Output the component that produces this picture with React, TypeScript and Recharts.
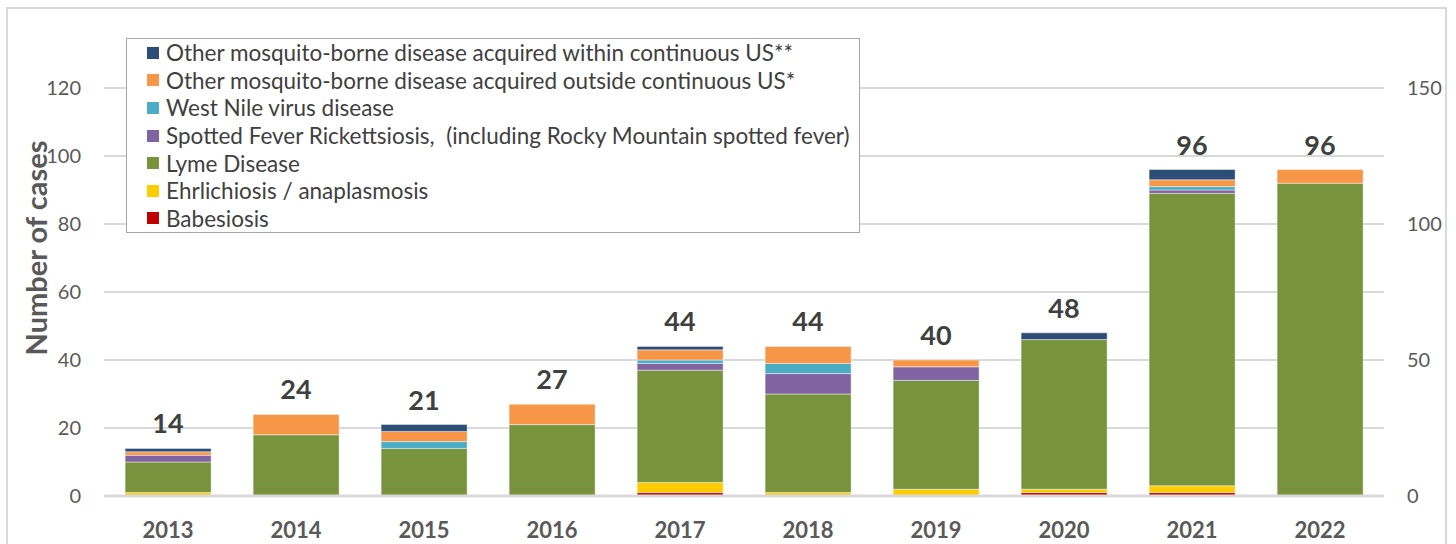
import React from "react";
import {
  ComposedChart,
  Bar,
  Line,
  XAxis,
  YAxis,
  CartesianGrid,
  Legend,
  LabelList,
  Label,
} from "recharts";

const years = ["2013", "2014", "2015", "2016", "2017", "2018", "2019", "2020", "2021", "2022"];
const babesiosis = [0, 0, 0, 0, 1, 0, 0, 1, 1, 0];
const ehrlichiosis = [1, 0, 0, 0, 3, 1, 2, 1, 2, 0];
const lyme = [9, 18, 14, 21, 33, 29, 32, 44, 86, 92];
const spotted = [2, 0, 0, 0, 2, 6, 4, 0, 1, 0];
const westNile = [0, 0, 2, 0, 1, 3, 0, 0, 1, 0];
const mosquitoOutside = [1, 6, 3, 6, 3, 5, 2, 0, 2, 4];
const mosquitoWithin = [1, 0, 2, 0, 1, 0, 0, 2, 3, 0];
const totals = [14, 24, 21, 27, 44, 44, 40, 48, 96, 96];

const leftTicks = [0, 20, 40, 60, 80, 100, 120];
const rightTicks = [0, 50, 100, 150];

const series = [
  { key: "babesiosis", name: "Babesiosis", color: "#C00000", values: babesiosis },
  { key: "ehrlichiosis", name: "Ehrlichiosis / anaplasmosis", color: "#FFCC00", values: ehrlichiosis },
  { key: "lyme", name: "Lyme Disease", color: "#77933C", values: lyme },
  {
    key: "spotted",
    name: "Spotted Fever Rickettsiosis,  (including Rocky Mountain spotted fever)",
    color: "#8064A2",
    values: spotted,
  },
  { key: "westNile", name: "West Nile virus disease", color: "#4BACC6", values: westNile },
  {
    key: "outside",
    name: "Other mosquito-borne disease acquired outside continuous US*",
    color: "#F79646",
    values: mosquitoOutside,
  },
  {
    key: "within",
    name: "Other mosquito-borne disease acquired within continuous US**",
    color: "#2C4D75",
    values: mosquitoWithin,
  },
];

const data = years.map((year, i) => {
  const row: Record<string, number | string> = { year, total: totals[i] };
  series.forEach((s) => {
    row[s.key] = s.values[i];
  });
  return row;
});

const FONT = "Lato, 'Open Sans', sans-serif";

const LegendBox = () => (
  <div
    style={{
      border: "1px solid #A6A6A6",
      background: "#fff",
      padding: "0px 0 0 20px",
      boxSizing: "border-box",
      width: 734,
      height: 195,
      fontFamily: FONT,
      fontSize: 22.5,
      color: "#404040",
    }}
  >
    {[...series].reverse().map((s) => (
      <div
        key={s.key}
        style={{ display: "flex", alignItems: "center", height: 27.6, whiteSpace: "pre" }}
      >
        <span
          style={{
            display: "inline-block",
            width: 12,
            height: 12,
            background: s.color,
            marginRight: 7,
            flex: "none",
          }}
        />
        <span>{s.name}</span>
      </div>
    ))}
  </div>
);

const AxisTitle = () => (
  <text
    transform="translate(47,248) rotate(-90)"
    textAnchor="middle"
    fontFamily={FONT}
    fontWeight={700}
    fontSize={29}
    fill="#595959"
  >
    Number of cases
  </text>
);

export default function App() {
  return (
    <div style={{ position: "absolute", left: 0, top: 0, width: 1456, height: 544, background: "#fff" }}>
      <div
        style={{
          position: "absolute",
          left: 6,
          top: 7,
          width: 1441,
          height: 560,
          border: "2px solid #D9D9D9",
          boxSizing: "border-box",
        }}
      />
      <ComposedChart
        width={1456}
        height={544}
        data={data}
        margin={{ top: 88, right: 0, bottom: 0, left: 0 }}
        barCategoryGap="16.5%"
        style={{ position: "absolute", left: 0, top: 0 }}
      >
        <CartesianGrid yAxisId="left" vertical={false} stroke="#D9D9D9" strokeWidth={2} />
        <XAxis
          dataKey="year"
          height={48}
          axisLine={{ stroke: "#D9D9D9", strokeWidth: 3 }}
          tickLine={false}
          tickSize={0}
          tickMargin={26}
          tick={{ fontFamily: FONT, fontWeight: 700, fontSize: 22, fill: "#595959" }}
        />
        <YAxis
          yAxisId="left"
          orientation="left"
          width={104}
          domain={[0, 120]}
          ticks={leftTicks}
          axisLine={false}
          tickLine={false}
          tickSize={0}
          tickMargin={23}
          tick={{ fontFamily: FONT, fontSize: 20, fill: "#595959" }}
        >
          <Label content={<AxisTitle />} />
        </YAxis>
        <YAxis
          yAxisId="right"
          orientation="right"
          width={72}
          domain={[0, 150]}
          ticks={rightTicks}
          axisLine={false}
          tickLine={false}
          tickSize={0}
          tickMargin={23}
          tick={{ fontFamily: FONT, fontSize: 20, fill: "#595959", textAnchor: "start" }}
        />
        {series.map((s) => (
          <Bar
            key={s.key}
            yAxisId="left"
            dataKey={s.key}
            name={s.name}
            stackId="cases"
            fill={s.color}
            stroke="rgba(255,255,255,0.55)"
            strokeWidth={0.8}
            isAnimationActive={false}
          />
        ))}
        <Line
          yAxisId="left"
          dataKey="total"
          stroke="none"
          dot={false}
          activeDot={false}
          legendType="none"
          isAnimationActive={false}
        >
          <LabelList
            dataKey="total"
            position="top"
            offset={15}
            style={{ fontFamily: FONT, fontWeight: 700, fontSize: 27, fill: "#404040" }}
          />
        </Line>
        <Line
          yAxisId="right"
          dataKey="total"
          stroke="none"
          dot={false}
          activeDot={false}
          legendType="none"
          isAnimationActive={false}
        />
        <Legend
          layout="vertical"
          align="center"
          verticalAlign="middle"
          content={<LegendBox />}
          wrapperStyle={{ position: "absolute", left: 126, top: 38, width: 734, height: 195 }}
        />
      </ComposedChart>
    </div>
  );
}
